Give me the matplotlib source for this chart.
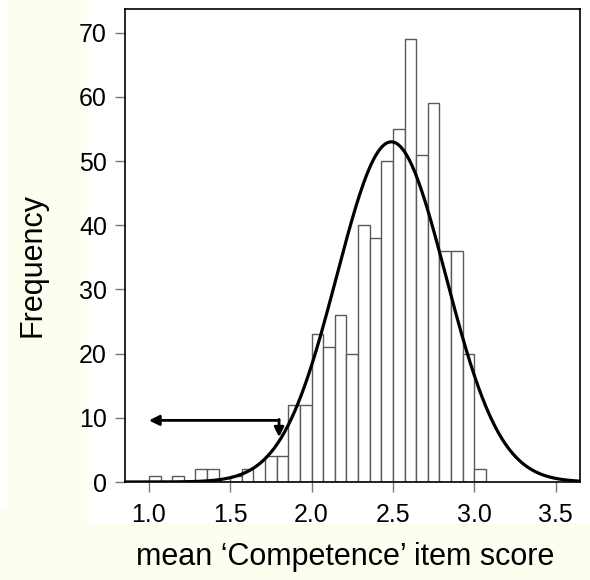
import numpy as np
import matplotlib
matplotlib.use("Agg")
import matplotlib.pyplot as plt
from matplotlib.patches import Rectangle

plt.rcParams['font.family'] = ['Liberation Sans', 'DejaVu Sans']

# histogram: bins of width 1/14 starting at 1.0
bin_start = 1.0
bin_width = 1 / 14
counts = [1, 0, 1, 0, 2, 2, 0, 1, 2, 0, 4, 4, 12, 12, 23, 21, 26, 20,
          40, 38, 50, 55, 69, 51, 59, 36, 36, 20, 2]

# fitted normal curve
curve_mean = 2.49
curve_sd = 0.335
curve_peak = 53

# arrow marking the low tail
arrow_y = 9.6
arrow_from = 1.8
arrow_to = 1.0
arrow_tip_y = 7.0

xticks = [1.0, 1.5, 2.0, 2.5, 3.0, 3.5]
yticks = [0, 10, 20, 30, 40, 50, 60, 70]

cream = '#fdfdf0'
fig = plt.figure(figsize=(5.9, 5.8), dpi=100, facecolor=cream)
# white backing like the pasted picture
fig.patches.append(Rectangle((87 / 590, 1 - 523 / 580), 1 - 87 / 590, 523 / 580,
                             transform=fig.transFigure, facecolor='white',
                             edgecolor='none', zorder=-10))
fig.patches.append(Rectangle((0, 1 - 507 / 580), 8 / 590, 507 / 580,
                             transform=fig.transFigure, facecolor='white',
                             edgecolor='none', zorder=-10))

ax = fig.add_axes([125 / 590, 1 - 482 / 580, 455 / 590, 473 / 580])
ax.set_facecolor('white')

left = [bin_start + k * bin_width for k in range(len(counts))]
ax.bar(left, counts, width=bin_width, align='edge', color='white',
       edgecolor='#5a5a5a', linewidth=1.0, zorder=2)

xs = np.linspace(0.85, 3.65, 400)
ys = curve_peak * np.exp(-(xs - curve_mean) ** 2 / (2 * curve_sd ** 2))
ax.plot(xs, ys, color='black', lw=2.3, zorder=3)

ax.annotate('', xy=(arrow_to, arrow_y), xytext=(arrow_from, arrow_y),
            arrowprops=dict(arrowstyle='-|>', color='black', lw=2,
                            mutation_scale=15, shrinkA=0, shrinkB=0), zorder=4)
ax.annotate('', xy=(arrow_from, arrow_tip_y), xytext=(arrow_from, arrow_y + 0.15),
            arrowprops=dict(arrowstyle='-|>', color='black', lw=2,
                            mutation_scale=14, shrinkA=0, shrinkB=0), zorder=4)

ax.set_xlim(0.853, 3.65)
ax.set_ylim(0, 73.7)
ax.set_xticks(xticks)
ax.set_xticklabels([f'{t:.1f}' for t in xticks])
ax.set_yticks(yticks)
ax.tick_params(axis='both', direction='out', length=7, width=1,
               color='#777777', labelsize=18, labelcolor='black')
ax.tick_params(axis='x', pad=8)
ax.tick_params(axis='y', pad=6)
for s in ax.spines.values():
    s.set_color('black')
    s.set_linewidth(1.2)

fig.text(345 / 590, 1 - 557 / 580, 'mean \u2018Competence\u2019 item score',
         ha='center', va='center', fontsize=22)
fig.text(32 / 590, 1 - 265 / 580, 'Frequency', rotation=90,
         ha='center', va='center', fontsize=22)

fig.savefig('out.png', dpi=100, facecolor=cream)
